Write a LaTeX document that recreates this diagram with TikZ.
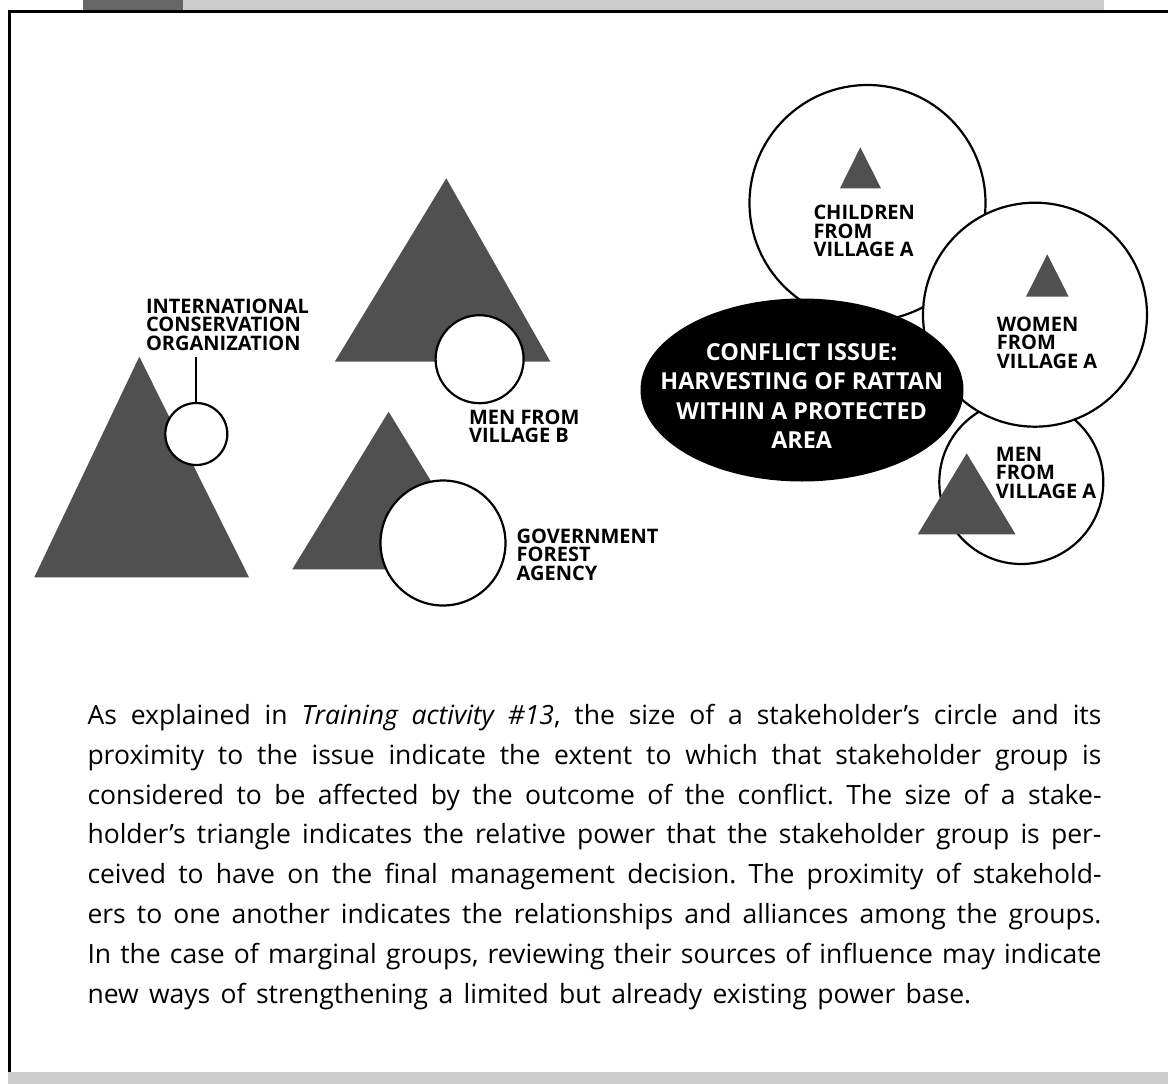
\documentclass[tikz,border=0pt]{standalone}
\usepackage{fontspec}
\setmainfont{Open Sans}
\usepackage{tikz}
\usetikzlibrary{positioning}
\usetikzlibrary{shapes.geometric}
\definecolor{tri}{HTML}{505050}
\definecolor{bardark}{HTML}{666666}
\definecolor{barlight}{HTML}{CCCCCC}
\newcommand{\widespaces}{\spaceskip=1.5\fontdimen2\font plus 1.5\fontdimen3\font minus \fontdimen4\font}
\tikzstyle{stake} = [circle,draw,line width=2.2pt,fill=white,inner sep=0pt]
\tikzstyle{power} = [fill=tri]
\tikzstyle{lbl} = [align=left,anchor=north west,inner sep=0pt,font=\fontsize{20}{18.5}\selectfont\bfseries]

\begin{document}
\begin{tikzpicture}[x=1pt,y=-1pt]
	\useasboundingbox (0,0) rectangle (1168,1084);

	%Frame
	\fill[bardark] (83,0) rectangle (183,10);
	\fill[barlight] (183,0) rectangle (1104,10);
	\fill[barlight] (8,1072) rectangle (1168,1084);
	\draw[line width=2.7pt] (8,11.3) -- (1168,11.3);
	\draw[line width=3pt] (9.5,10) -- (9.5,1072);

	%Triangles
	\fill[power] (139.3,356.7) -- (34.3,577.3) -- (249,577.3) -- cycle;
	\fill[power] (446.3,178.3) -- (334.8,361.7) -- (550.4,361.7) -- cycle;
	\fill[power] (388.6,411.7) -- (292.3,569.3) -- (484.9,569.3) -- cycle;

	%Nodes
	\node[stake,minimum size=62pt] (ico) at (196.3,434) {};
	\node[stake,minimum size=88pt] (menb) at (479.6,359.2) {};
	\node[stake,minimum size=125pt] (gfa) at (443,543) {};

	\node[stake,minimum size=236pt] (children) at (867.5,203) {};
	\node[stake,minimum size=164pt] (mena) at (1021.3,482) {};
	\node[stake,minimum size=224pt] (women) at (1035,314.7) {};
	\node[ellipse,fill=black,minimum width=323pt,minimum height=183pt,inner sep=0pt] (issue) at (802,390) {};

	\fill[power] (860.3,147.3) -- (840,188.3) -- (881,188.3) -- cycle;
	\fill[power] (1047.3,254.3) -- (1026,296.7) -- (1068.7,296.7) -- cycle;
	\fill[power] (966.7,453.3) -- (917.8,534.3) -- (1015.5,534.3) -- cycle;

	%Labels
	\node[lbl] (icolabel) at (145.8,298.3) {INTERNATIONAL\\CONSERVATION\\ORGANIZATION};
	\node[lbl] (menblabel) at (468.8,409.3) {MEN FROM\\VILLAGE B};
	\node[lbl] (gfalabel) at (516.5,528.3) {GOVERNMENT\\FOREST\\AGENCY};
	\node[lbl] (childrenlabel) at (813.3,205) {CHILDREN\\FROM\\VILLAGE A};
	\node[lbl] (womenlabel) at (996.7,316.6) {WOMEN\\FROM\\VILLAGE A};
	\node[lbl] (menalabel) at (995.7,446.6) {MEN\\FROM\\VILLAGE A};
	\node[align=center,anchor=north,inner sep=0pt,text=white,font=\fontsize{23.4}{29.3}\selectfont\bfseries] (issuetext) at (801.7,343.3) {CONFLICT ISSUE:\\HARVESTING OF RATTAN\\WITHIN A PROTECTED\\AREA};

	%Lines
	\coordinate (icoend) at (196.3,356.7);
	\draw[line width=2pt] (ico) -- (icoend);

	%Text
	\node[anchor=north west,inner sep=0pt,text width=1014pt,align=justify,font=\fontsize{26.5}{39.8}\selectfont\widespaces] (body) at (87.3,703.3) {\noindent\frenchspacing\tolerance=10000\rule{0pt}{21pt}As explained in \textit{Training activity \#13}, the size of a stakeholder's circle and its\linebreak
	proximity to the issue indicate the extent to which that stakeholder group is\linebreak
	considered to be affected by the outcome of the conflict. The size of a stake-\linebreak
	holder's triangle indicates the relative power that the stakeholder group is per-\linebreak
	ceived to have on the final management decision. The proximity of stakehold-\linebreak
	ers to one another indicates the relationships and alliances among the groups.\linebreak
	In the case of marginal groups, reviewing their sources of influence may indicate\linebreak
	new ways of strengthening a limited but already existing power base.};
\end{tikzpicture}
\end{document}
